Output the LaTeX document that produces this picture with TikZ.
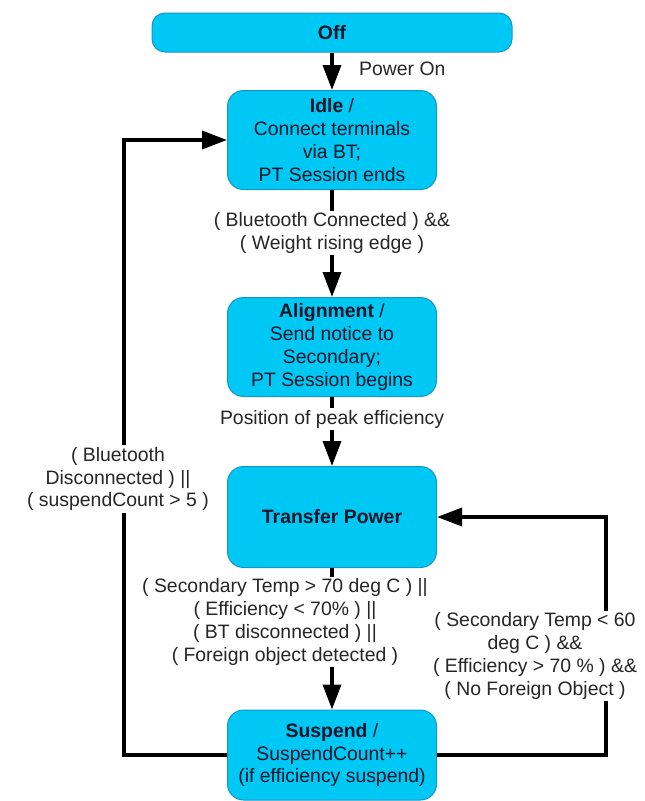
\documentclass[tikz,border=0pt]{standalone}
\usepackage{fontspec}
\setmainfont{Liberation Sans}
\usetikzlibrary{arrows.meta}
\definecolor{boxfill}{RGB}{0,200,245}
\definecolor{boxline}{RGB}{20,150,200}
\definecolor{txt}{RGB}{15,20,40}
\begin{document}
\begin{tikzpicture}[x=1pt,y=-1pt,
  state/.style={draw=boxline, line width=1pt, fill=boxfill, rounded corners=16pt,
    minimum width=209pt, minimum height=99pt, align=center,
    font=\fontsize{19.4}{22.8}\selectfont, text=txt, inner sep=2pt},
  lbl/.style={fill=white, align=center, font=\fontsize{19.4}{22.8}\selectfont,
    text=black!85, inner sep=2pt},
  conn/.style={line width=3.5pt, -{Triangle[width=18pt,length=25pt]}}]
\useasboundingbox (0,0) rectangle (645,801);
\node[state, minimum width=360pt, minimum height=39pt, rounded corners=13pt] (off) at (332,32.5) {\textbf{Off}};
\node[state] (idle) at (332,140) {\textbf{Idle} /\\Connect terminals\\via BT;\\PT Session ends};
\node[state] (align) at (332,347) {\textbf{Alignment} /\\Send notice to\\Secondary;\\PT Session begins};
\node[state, minimum height=101pt] (transfer) at (332,517) {\textbf{Transfer Power}};
\node[state, minimum height=90pt] (suspend) at (332,755) {\textbf{Suspend} /\\SuspendCount++\\(if efficiency suspend)};
\coordinate (L1) at (124,755);
\coordinate (L2) at (124,140);
\coordinate (R1) at (606,755);
\coordinate (R2) at (606,517);
\draw[conn] (off) -- (idle);
\draw[conn] (idle) -- (align);
\draw[conn] (align) -- (transfer);
\draw[conn] (transfer) -- (suspend);
\draw[conn] (suspend.west) -- (L1) -- (L2) -- (idle.west);
\draw[conn] (suspend.east) -- (R1) -- (R2) -- (transfer.east);
\node[lbl, fill=none, anchor=west] (lpower) at (357,69) {Power On};
\node[lbl] (lbt) at (332,233) {( Bluetooth Connected ) \&\&\\( Weight rising edge )};
\node[lbl] (lpeak) at (332,419) {Position of peak efficiency};
\node[lbl] (lsusp) at (285,622) {( Secondary Temp > 70 deg C ) ||\\( Efficiency < 70\% ) ||\\( BT disconnected ) ||\\( Foreign object detected )};
\node[lbl] (lres) at (535,656) {( Secondary Temp < 60\\deg C ) \&\&\\( Efficiency > 70 \% ) \&\&\\( No Foreign Object )};
\node[lbl] (ldisc) at (118,479) {( Bluetooth\\Disconnected ) ||\\( suspendCount > 5 )};
\end{tikzpicture}
\end{document}
